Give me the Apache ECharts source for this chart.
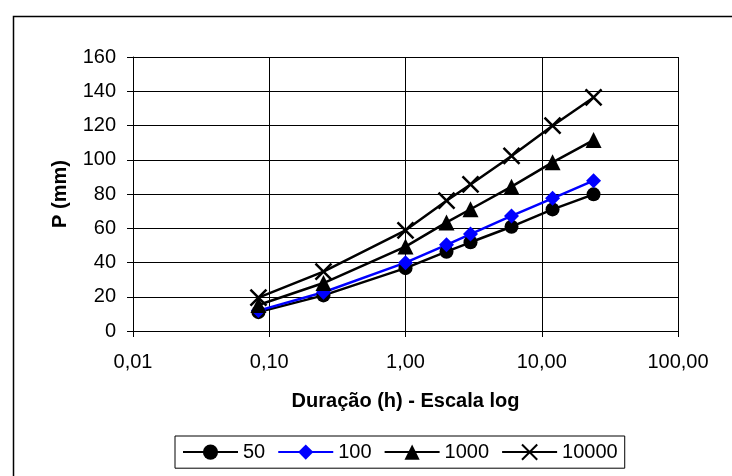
<!DOCTYPE html>
<html>
<head>
<meta charset="utf-8">
<script src="https://cdn.jsdelivr.net/npm/echarts@6/dist/echarts.min.js"></script>
<style>
html,body{margin:0;padding:0;background:#fff;}
#chart{width:732px;height:476px;}
</style>
</head>
<body>
<div id="chart"></div>
<script>
const durations = [0.0833, 0.25, 1, 2, 3, 6, 12, 24];
const seriesNames = ['50', '100', '1000', '10000'];
const p50 = [11.0, 20.8, 36.7, 46.3, 51.8, 60.9, 71.0, 79.8];
const p100 = [11.9, 22.6, 39.9, 50.3, 56.6, 67.2, 77.5, 87.8];
const p1000 = [15.2, 28.0, 49.3, 63.4, 71.1, 84.3, 98.5, 111.5];
const p10000 = [19.5, 34.7, 58.8, 76.1, 85.6, 102.2, 119.9, 136.4];
const yTicks = [0, 20, 40, 60, 80, 100, 120, 140, 160];

const FONT = 'Liberation Sans, Arial, sans-serif';
function pairs(vals){ return durations.map((d,i)=>[d, vals[i]]); }

const chart = echarts.init(document.getElementById('chart'));
const xPath = 'path://M0,0L10,10M10,0L0,10';

chart.setOption({
  animation: false,
  backgroundColor: '#fff',
  textStyle: {fontFamily: FONT},
  graphic: [{
    type: 'rect', left: 11, top: 14, z: -1,
    shape: {width: 760, height: 500},
    style: {fill: 'none', stroke: '#000', lineWidth: 1.5}
  }],
  grid: {left: 133, right: 54, top: 57, bottom: 145, containLabel: false},
  xAxis: {
    type: 'log', logBase: 10, min: 0.01, max: 100,
    name: 'Duração (h) - Escala log',
    nameLocation: 'middle', nameGap: 60,
    nameTextStyle: {fontFamily: FONT, fontSize: 20, fontWeight: 'bold', color: '#000'},
    axisLine: {show: true, lineStyle: {color: '#000', width: 1}},
    axisTick: {show: true, length: 6, lineStyle: {color: '#000'}},
    axisLabel: {fontFamily: FONT, fontSize: 20, color: '#000', margin: 21,
      formatter: v => Number(v).toFixed(2).replace('.', ',')},
    splitLine: {show: true, lineStyle: {color: '#000', width: 1}},
    minorTick: {show: false}, minorSplitLine: {show: false}
  },
  yAxis: {
    type: 'value', min: yTicks[0], max: yTicks[yTicks.length-1], interval: 20,
    name: 'P (mm)', nameLocation: 'middle', nameGap: 63, nameRotate: 90,
    nameTextStyle: {fontFamily: FONT, fontSize: 20, fontWeight: 'bold', color: '#000'},
    axisLine: {show: true, lineStyle: {color: '#000', width: 1}},
    axisTick: {show: true, length: 6, lineStyle: {color: '#000'}},
    axisLabel: {fontFamily: FONT, fontSize: 20, color: '#000', margin: 17},
    splitLine: {show: true, lineStyle: {color: '#000', width: 1}}
  },
  legend: {
    left: 175, top: 436,
    data: seriesNames,
    itemWidth: 55, itemHeight: 19, itemGap: 12,
    padding: [6, 7, 6, 7],
    borderColor: '#000', borderWidth: 1,
    textStyle: {fontFamily: FONT, fontSize: 20, color: '#000'}
  },
  series: [
    {name: seriesNames[0], type: 'line', data: pairs(p50),
     symbol: 'circle', symbolSize: 14,
     lineStyle: {color: '#000', width: 2.5},
     itemStyle: {color: '#000', borderWidth: 0}},
    {name: seriesNames[1], type: 'line', data: pairs(p100),
     symbol: 'diamond', symbolSize: 15,
     lineStyle: {color: '#0000ff', width: 2.5},
     itemStyle: {color: '#0000ff', borderWidth: 0}},
    {name: seriesNames[2], type: 'line', data: pairs(p1000),
     symbol: 'triangle', symbolSize: 16,
     lineStyle: {color: '#000', width: 2.5},
     itemStyle: {color: '#000', borderWidth: 0}},
    {name: seriesNames[3], type: 'line', data: pairs(p10000),
     symbol: xPath, symbolSize: 16,
     lineStyle: {color: '#000', width: 2.5},
     itemStyle: {color: 'none', borderColor: '#000', borderWidth: 2.5}}
  ]
});
</script>
</body>
</html>
